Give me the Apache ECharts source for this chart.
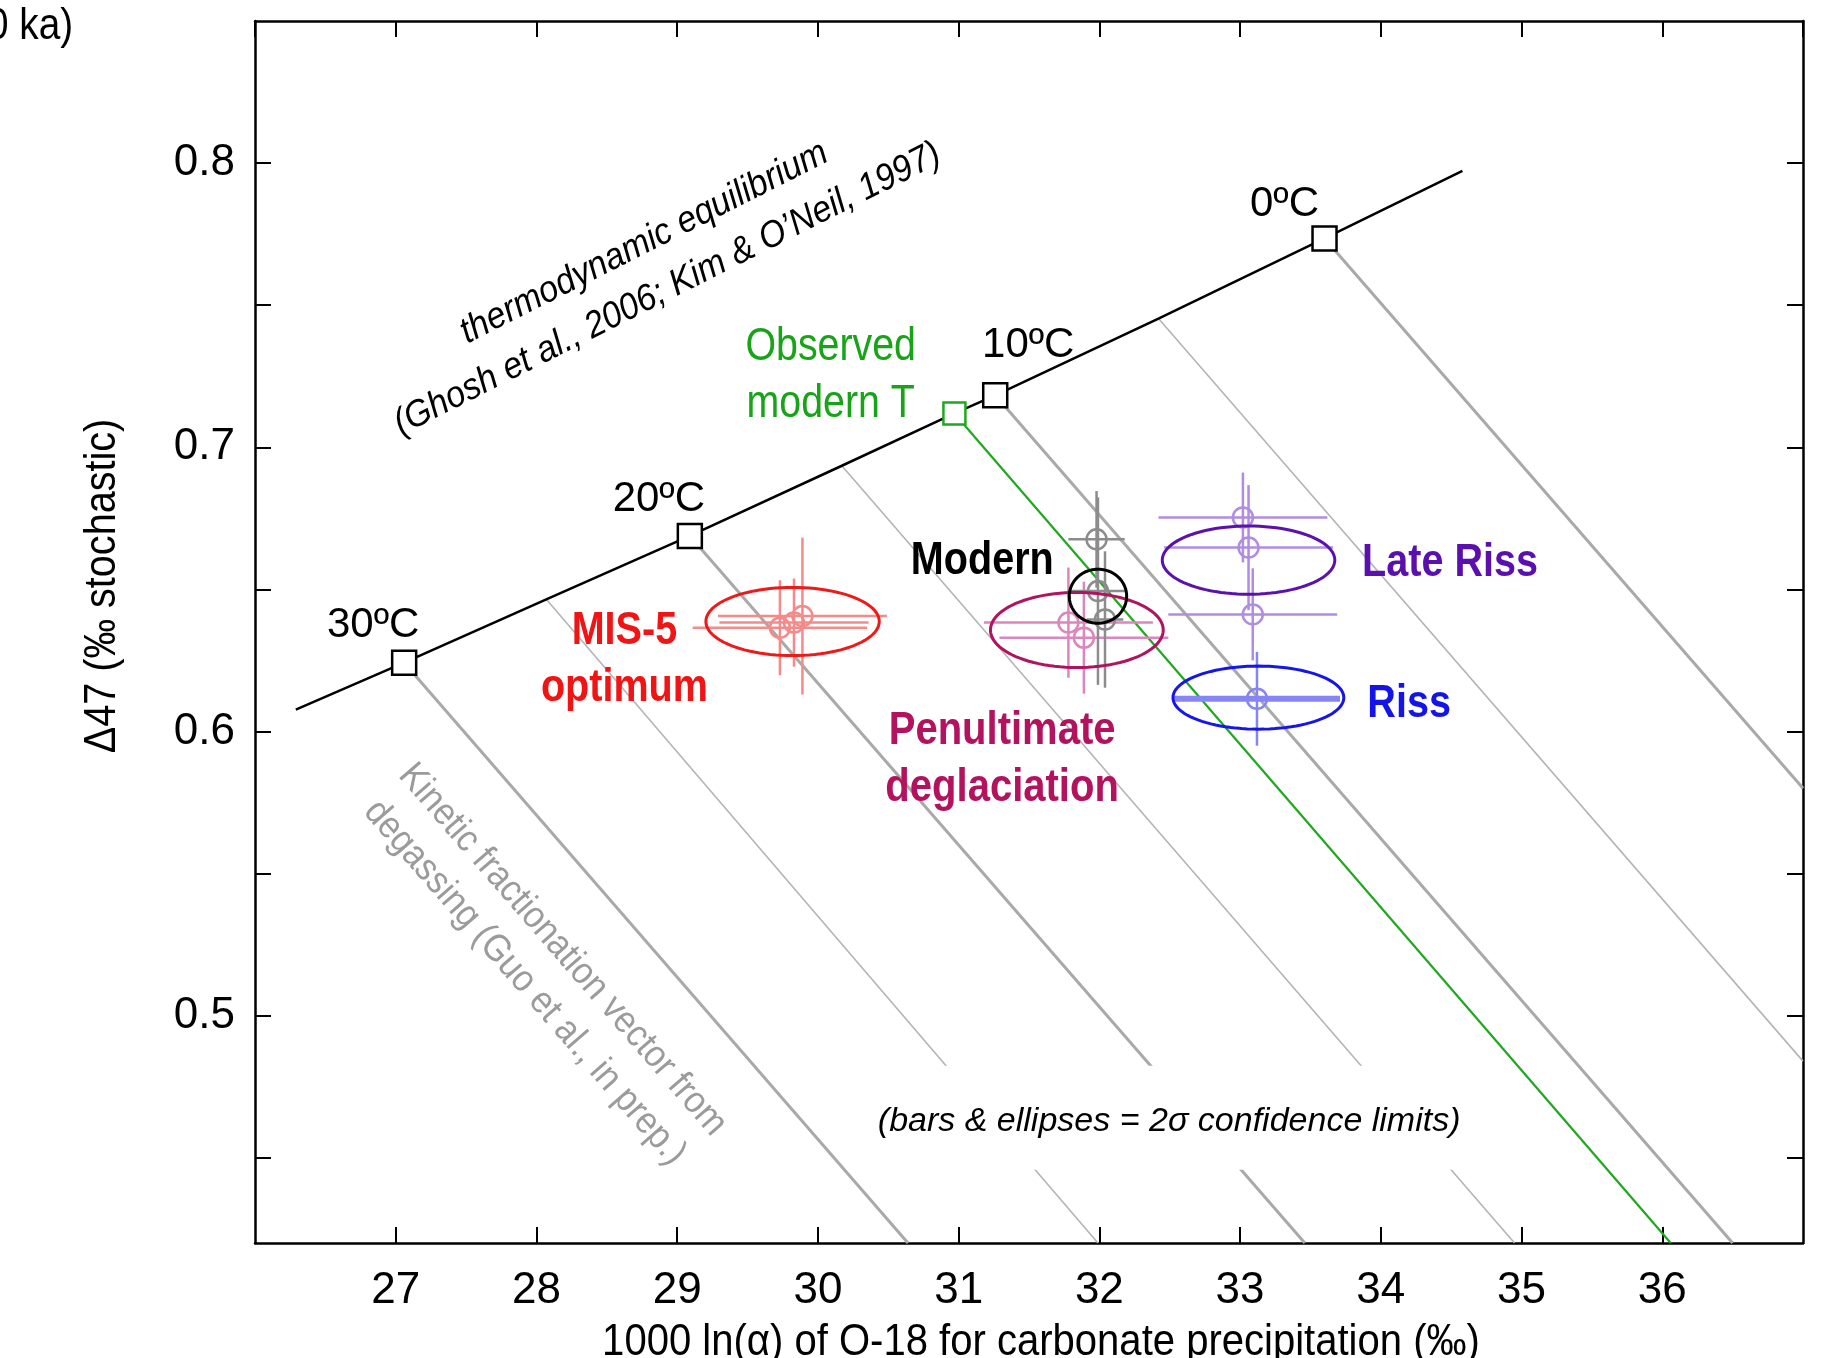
<!DOCTYPE html>
<html>
<head>
<meta charset="utf-8">
<script src="https://cdn.jsdelivr.net/npm/echarts@6/dist/echarts.min.js"></script>
<style>
  html, body { margin: 0; padding: 0; background: #fff; }
  #chart { width: 1838px; height: 1358px; }
</style>
</head>
<body>
<div id="chart"></div>
<script>
const FONT = '"Liberation Sans Narrow", "Arial Narrow", "Liberation Sans", Arial, sans-serif';

// thermodynamic equilibrium line (x = 1000 ln(alpha), y = D47)
const eqLine = [[26.29, 0.6077], [27.06, 0.6242], [28.07, 0.6465], [29.09, 0.6688], [30.17, 0.6935],
                [30.97, 0.7119], [31.26, 0.7183], [32.42, 0.7453], [33.60, 0.7735], [34.58, 0.7973]];
const tempNames = ['30ºC', '20ºC', '10ºC', '0ºC'];
const tempPoints = [[27.06, 0.6242], [29.09, 0.6688], [31.26, 0.7183], [33.60, 0.7735]];
const observedModern = [30.97, 0.7119];

// kinetic fractionation vectors: [start on equilibrium line, end at frame]
const kineticThick = [
  [[27.06, 0.6242], [30.64, 0.42]],
  [[29.09, 0.6688], [33.46, 0.42]],
  [[31.26, 0.7183], [36.50, 0.42]],
  [[33.60, 0.7735], [37.00, 0.580]]
];
const kineticThin = [
  [[28.07, 0.6465], [31.99, 0.42]],
  [[30.17, 0.6935], [34.95, 0.42]],
  [[32.42, 0.7453], [37.00, 0.484]]
];
const observedVector = [[30.97, 0.7119], [36.06, 0.42]];

// samples: [x, y, x 2sigma, y 2sigma]
const mis5Pts = [[29.73, 0.6365, 0.62, 0.0167], [29.83, 0.6383, 0.53, 0.0155], [29.89, 0.6406, 0.60, 0.0276]];
const penultPts = [[31.78, 0.6383, 0.60, 0.0194], [31.89, 0.6330, 0.60, 0.0197]];
const modernPts = [[31.98, 0.6676, 0.20, 0.0170], [31.99, 0.6494, 0.20, 0.0330], [32.04, 0.6394, 0.13, 0.0240]];
const lateRissPts = [[33.02, 0.6753, 0.60, 0.0158], [33.06, 0.6647, 0.60, 0.0220], [33.09, 0.6412, 0.60, 0.0162]];
const rissPts = [[33.12, 0.6115, 0.59, 0.0165]];

// group means: [cx, cy, x 2sigma, y 2sigma]
const mis5Ell = [29.82, 0.6387, 0.616, 0.0120];
const penultEll = [31.84, 0.6357, 0.614, 0.0132];
const modernEll = [31.99, 0.6476, 0.204, 0.0095];
const lateRissEll = [33.06, 0.6603, 0.613, 0.0120];
const rissEll = [33.13, 0.6119, 0.607, 0.0111];

const yTicks = [0.45, 0.5, 0.55, 0.6, 0.65, 0.7, 0.75, 0.8];
const yLabels = [0.5, 0.6, 0.7, 0.8];

const tempLabelOffsets = [[-31, -37], [-31, -37], [33, -50], [-40, -34]];

function errorBars(pts, color, hWidth) {
  return {
    type: 'custom',
    z: 5,
    silent: true,
    data: pts,
    encode: { x: 0, y: 1 },
    renderItem: function (params, api) {
      const x = api.value(0), y = api.value(1), ex = api.value(2), ey = api.value(3);
      const c = api.coord([x, y]);
      const l = api.coord([x - ex, y]), r = api.coord([x + ex, y]);
      const t = api.coord([x, y + ey]), b = api.coord([x, y - ey]);
      return {
        type: 'group',
        children: [
          { type: 'line', shape: { x1: l[0], y1: l[1], x2: r[0], y2: r[1] }, style: { stroke: color, lineWidth: hWidth } },
          { type: 'line', shape: { x1: t[0], y1: t[1], x2: b[0], y2: b[1] }, style: { stroke: color, lineWidth: 2.5 } },
          { type: 'circle', shape: { cx: c[0], cy: c[1], r: 10 }, style: { stroke: color, lineWidth: 2.5, fill: 'none' } }
        ]
      };
    }
  };
}

function ellipse(e, color, width) {
  return {
    type: 'custom',
    z: 6,
    silent: true,
    data: [e],
    encode: { x: 0, y: 1 },
    renderItem: function (params, api) {
      const cx = api.value(0), cy = api.value(1), rx = api.value(2), ry = api.value(3);
      const points = [];
      for (let k = 0; k < 96; k++) {
        const a = (k / 96) * Math.PI * 2;
        points.push(api.coord([cx + rx * Math.cos(a), cy + ry * Math.sin(a)]));
      }
      return { type: 'polygon', shape: { points: points }, style: { stroke: color, lineWidth: width, fill: 'none' } };
    }
  };
}

const axisLine = { show: true, onZero: false, lineStyle: { color: '#000', width: 2.5 } };
const tick = { show: true, inside: true, length: 16, lineStyle: { color: '#000', width: 2 } };

const chart = echarts.init(document.getElementById('chart'));
const option = {
  animation: false,
  backgroundColor: '#fff',
  grid: { left: 255, right: 35, top: 21, bottom: 115, containLabel: false, outerBoundsMode: 'none' },
  xAxis: [
    {
      type: 'value', min: 26, max: 37, interval: 1, position: 'bottom',
      axisLine: axisLine, axisTick: tick, splitLine: { show: false },
      axisLabel: { showMinLabel: false, showMaxLabel: false, margin: 26, color: '#000', fontSize: 44, fontFamily: FONT }
    },
    {
      type: 'value', min: 26, max: 37, interval: 1, position: 'top',
      axisLine: axisLine, axisTick: tick, splitLine: { show: false }, axisLabel: { show: false }
    }
  ],
  yAxis: [
    {
      type: 'value', min: 0.42, max: 0.85, position: 'left',
      axisLine: axisLine, splitLine: { show: false },
      axisTick: Object.assign({ customValues: yTicks }, tick),
      axisLabel: { customValues: yLabels, formatter: v => v.toFixed(1), margin: 20, color: '#000', fontSize: 44, fontFamily: FONT }
    },
    {
      type: 'value', min: 0.42, max: 0.85, position: 'right',
      axisLine: axisLine, splitLine: { show: false },
      axisTick: Object.assign({ customValues: yTicks }, tick),
      axisLabel: { show: false }
    }
  ],
  series: [
    {
      type: 'lines', coordinateSystem: 'cartesian2d', z: 1, silent: true,
      data: kineticThin.map(c => ({ coords: c })),
      lineStyle: { color: '#b4b4b4', width: 1.6, opacity: 1 }
    },
    {
      type: 'lines', coordinateSystem: 'cartesian2d', z: 1, silent: true,
      data: kineticThick.map(c => ({ coords: c })),
      lineStyle: { color: '#a9a9a9', width: 3, opacity: 1 }
    },
    {
      type: 'lines', coordinateSystem: 'cartesian2d', z: 2, silent: true,
      data: [{ coords: observedVector }],
      lineStyle: { color: '#1fa81f', width: 2.2, opacity: 1 }
    },
    {
      type: 'line', data: eqLine, showSymbol: false, z: 3, silent: true,
      lineStyle: { color: '#000', width: 2.5 }
    },
    {
      type: 'scatter', symbol: 'rect', symbolSize: 24, z: 7, silent: true,
      itemStyle: { color: '#fff', borderColor: '#000', borderWidth: 2.5, opacity: 1 },
      data: tempPoints.map((p, i) => ({ value: p, name: tempNames[i], label: { offset: tempLabelOffsets[i] } })),
      label: { show: true, position: 'inside', formatter: '{b}', color: '#000', fontSize: 42, fontFamily: FONT }
    },
    {
      type: 'scatter', symbol: 'rect', symbolSize: 22, z: 7, silent: true,
      itemStyle: { color: '#fff', borderColor: '#1fa81f', borderWidth: 2.5, opacity: 1 },
      data: [observedModern]
    },
    errorBars(mis5Pts, '#f58a8a', 2.5),
    errorBars(penultPts, '#dc86bd', 2.5),
    errorBars(modernPts, '#8c8c8c', 2.5),
    errorBars(lateRissPts, '#b08ce2', 2.5),
    errorBars(rissPts, '#8585f4', 6),
    ellipse(mis5Ell, '#ee1a1a', 3),
    ellipse(penultEll, '#b0145e', 3),
    ellipse(lateRissEll, '#5c10ac', 3),
    ellipse(rissEll, '#1616e8', 3),
    ellipse(modernEll, '#000', 3)
  ]
};
chart.setOption(option);

// annotations anchored in data coordinates
const notes = [
  { text: 'MIS-5\noptimum', at: [28.625, 0.6268], color: '#f01414', size: 46, weight: 'bold', lh: 57, sx: 0.86, dy: 5 },
  { text: 'Modern', at: [31.168, 0.6618], color: '#000', size: 46, weight: 'bold', lh: 50, sx: 0.86, dy: 5 },
  { text: 'Late Riss', at: [34.492, 0.6613], color: '#5a0fae', size: 46, weight: 'bold', lh: 50, sx: 0.86, dy: 6 },
  { text: 'Riss', at: [34.201, 0.6113], color: '#1414e6', size: 46, weight: 'bold', lh: 50, sx: 0.86, dy: 5 },
  { text: 'Penultimate\ndeglaciation', at: [31.309, 0.592], color: '#b3125f', size: 46, weight: 'bold', lh: 57, sx: 0.87, dy: 6 },
  { text: 'Observed\nmodern T', at: [30.091, 0.7269], color: '#19a319', size: 46, weight: 'normal', lh: 57, sx: 0.855, dy: 5 },
  { text: 'thermodynamic equilibrium\n(Ghosh et al., 2006; Kim & O\u2019Neil, 1997)', at: [28.848, 0.7652],
    color: '#000', size: 37, weight: 'normal', italic: true, lh: 52, rot: 26.8, sx: 0.92, dy: 4 },
  { text: 'Kinetic fractionation vector from\ndegassing (Guo et al., in prep.)', at: [28.051, 0.5184],
    color: '#9b9b9b', size: 38, weight: 'normal', lh: 50, rot: -49, sx: 0.9, dy: 3 }
];
const boxNote = { text: '(bars & ellipses = 2\u03c3 confidence limits)', at: [32.496, 0.4641], w: 600, h: 104 };

function textEl(x, y, text, opts) {
  return {
    type: 'text', x: x, y: y, z: 20, silent: true,
    rotation: (opts.rot || 0) * Math.PI / 180,
    scaleX: opts.sx || 1,
    style: {
      text: text, fill: opts.color || '#000', fontSize: opts.size, fontWeight: opts.weight || 'normal',
      fontStyle: opts.italic ? 'italic' : 'normal', fontFamily: FONT,
      textAlign: opts.align || 'center', textVerticalAlign: 'middle', lineHeight: opts.lh || opts.size
    }
  };
}

function build() {
  const els = notes.map(n => {
    const p = chart.convertToPixel({ xAxisIndex: 0, yAxisIndex: 0 }, n.at);
    return textEl(p[0], p[1] + (n.dy || 0), n.text, n);
  });
  const b = chart.convertToPixel({ xAxisIndex: 0, yAxisIndex: 0 }, boxNote.at);
  els.push({
    type: 'rect', z: 19, silent: true,
    shape: { x: b[0] - boxNote.w / 2, y: b[1] - boxNote.h / 2, width: boxNote.w, height: boxNote.h },
    style: { fill: '#fff' }
  });
  els.push(textEl(b[0], b[1] + 4, boxNote.text, { size: 34, italic: true }));
  // axis titles and the clipped heading fragment
  const grid = chart.getModel().getComponent('grid').coordinateSystem.getRect();
  els.push(textEl(grid.x + grid.width / 2 + 12, grid.y + grid.height + 100,
    '1000 ln(α) of O-18 for carbonate precipitation (‰)', { size: 44, sx: 0.91 }));
  els.push(textEl(103, 586, 'Δ47 (‰ stochastic)', { size: 44, sx: 0.9, rot: 90 }));
  els.push(textEl(-13, 27, '0 ka)', { size: 44, sx: 0.88, align: 'left' }));
  chart.setOption({ graphic: { elements: els } });
}
build();

window.addEventListener('resize', function () {
  chart.resize();
  build();
});
</script>
</body>
</html>
